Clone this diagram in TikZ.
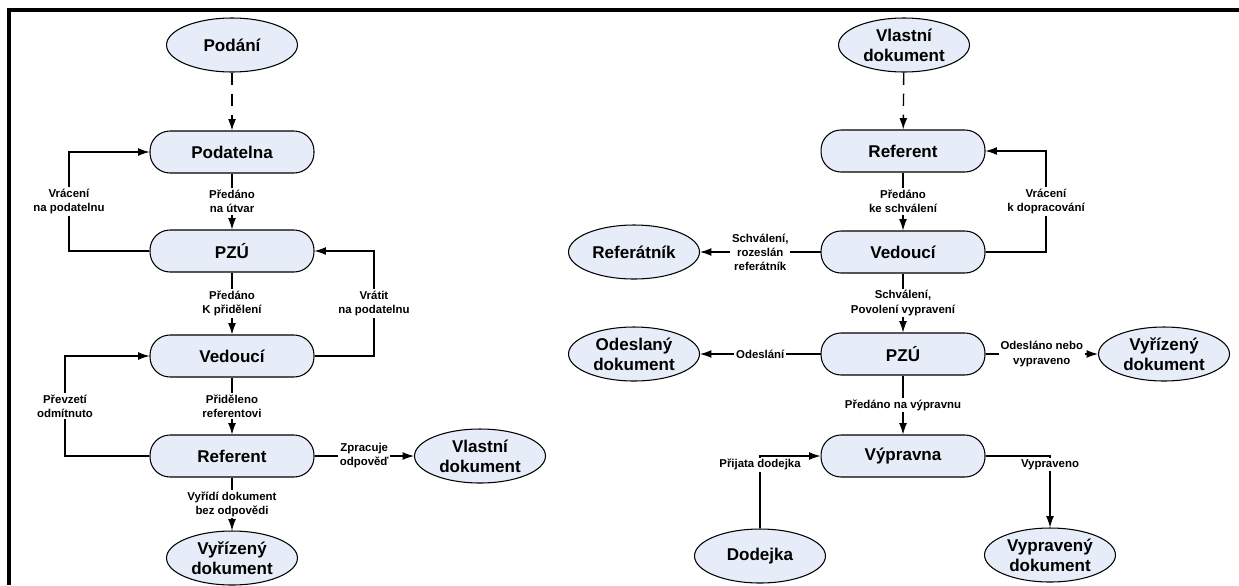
\documentclass[tikz,border=0pt]{standalone}
\usepackage{fontspec}
\setmainfont{Liberation Sans}
\usetikzlibrary{arrows.meta,shapes.geometric}
\definecolor{vypln}{RGB}{231,237,248}
\tikzset{
	stav/.style={draw=black, fill=vypln, line width=0.6pt, rounded corners=0.4cm,
		minimum width=3.28cm, minimum height=0.84cm, font=\fontsize{9.7}{11.5}\selectfont\bfseries},
	dok/.style={shape=ellipse, draw=black, fill=vypln, line width=0.6pt, inner sep=0pt,
		minimum width=2.62cm, minimum height=1.08cm, align=center, font=\fontsize{9.7}{11.5}\selectfont\bfseries},
	popis/.style={fill=white, inner sep=1pt, align=center, font=\fontsize{6.5}{8}\selectfont\bfseries},
	sipka/.style={-{Latex[length=6.5pt,width=4.5pt]}, line width=0.6pt},
	carkovana/.style={line width=0.8pt, dash pattern=on 7pt off 5pt},
}
\begin{document}
\begin{tikzpicture}[x=0.02cm, y=-0.02cm]
	\useasboundingbox (0,0) rectangle (1239,585);
	\draw[line width=2.2pt] (9,585) -- (9,10) -- (1239,10);

	% levy diagram
	\node[dok]  (podani)    at (232,45)  {Podání};
	\node[stav] (podatelna) at (232,152) {Podatelna};
	\node[stav] (pzu)       at (232,251) {PZÚ};
	\node[stav] (vedouci)   at (232,356) {Vedoucí};
	\node[stav] (referent)  at (232,456) {Referent};
	\node[dok]  (vyrizeny)  at (232,558) {Vyřízený\\dokument};
	\node[dok]  (vlastni)   at (480,456) {Vlastní\\dokument};

	\coordinate (k1) at (69,152);
	\coordinate (k2) at (374,251);
	\coordinate (k3) at (65,356);

	\path [sipka, carkovana] (podani) edge (podatelna);
	\path [sipka] (podatelna) edge node[popis] {Předáno\\na útvar} (pzu);
	\path [sipka] (pzu)       edge node[popis] {Předáno\\K přidělení} (vedouci);
	\path [sipka] (vedouci)   edge node[popis] {Přiděleno\\referentovi} (referent);
	\path [sipka] (referent)  edge node[popis] {Vyřídí dokument\\bez odpovědi} (vyrizeny);
	\path [sipka] (referent)  edge node[popis] {Zpracuje\\odpověď} (vlastni);

	\draw [sipka] (pzu.west) -| node[popis, pos=0.75] {Vrácení\\na podatelnu} (k1) -- (podatelna.west);
	\draw [sipka] (vedouci.east) -| node[popis, pos=0.75] {Vrátit\\na podatelnu} (k2) -- (pzu.east);
	\draw [sipka] (referent.west) -| node[popis, pos=0.75] {Převzetí\\odmítnuto} (k3) -- (vedouci.west);

	% pravy diagram
	\node[dok]  (vlastni2)   at (904,45)  {Vlastní\\dokument};
	\node[stav] (referent2)  at (903,151) {Referent};
	\node[stav] (vedouci2)   at (903,252) {Vedoucí};
	\node[dok]  (referatnik) at (634,252) {Referátník};
	\node[stav] (pzu2)       at (903,354) {PZÚ};
	\node[dok]  (odeslany)   at (634,354) {Odeslaný\\dokument};
	\node[dok]  (vyrizeny2)  at (1164,354) {Vyřízený\\dokument};
	\node[stav] (vypravna)   at (903,456) {Výpravna};
	\node[dok]  (dodejka)    at (760,556) {Dodejka};
	\node[dok]  (vypraveny)  at (1050,555) {Vypravený\\dokument};

	\coordinate (k4) at (1046,151);

	\path [sipka, carkovana] (vlastni2) edge (referent2);
	\path [sipka] (referent2) edge node[popis] {Předáno\\ke schválení} (vedouci2);
	\path [sipka] (vedouci2)  edge node[popis] {Schválení,\\rozeslán\\referátník} (referatnik);
	\path [sipka] (vedouci2)  edge node[popis] {Schválení,\\Povolení vypravení} (pzu2);
	\path [sipka] (pzu2)      edge node[popis] {Odeslání} (odeslany);
	\path [sipka] (pzu2)      edge node[popis] {Odesláno nebo\\vypraveno} (vyrizeny2);
	\path [sipka] (pzu2)      edge node[popis] {Předáno na výpravnu} (vypravna);

	\draw [sipka] (vedouci2.east) -| node[popis, pos=0.75] {Vrácení\\k dopracování} (k4) -- (referent2.east);
	\draw [sipka] (dodejka.north) |- node[popis, pos=0.44] {Přijata dodejka} (vypravna.west);
	\draw [sipka] (vypravna.east) -| node[popis, pos=0.56] {Vypraveno} (vypraveny.north);
\end{tikzpicture}
\end{document}
